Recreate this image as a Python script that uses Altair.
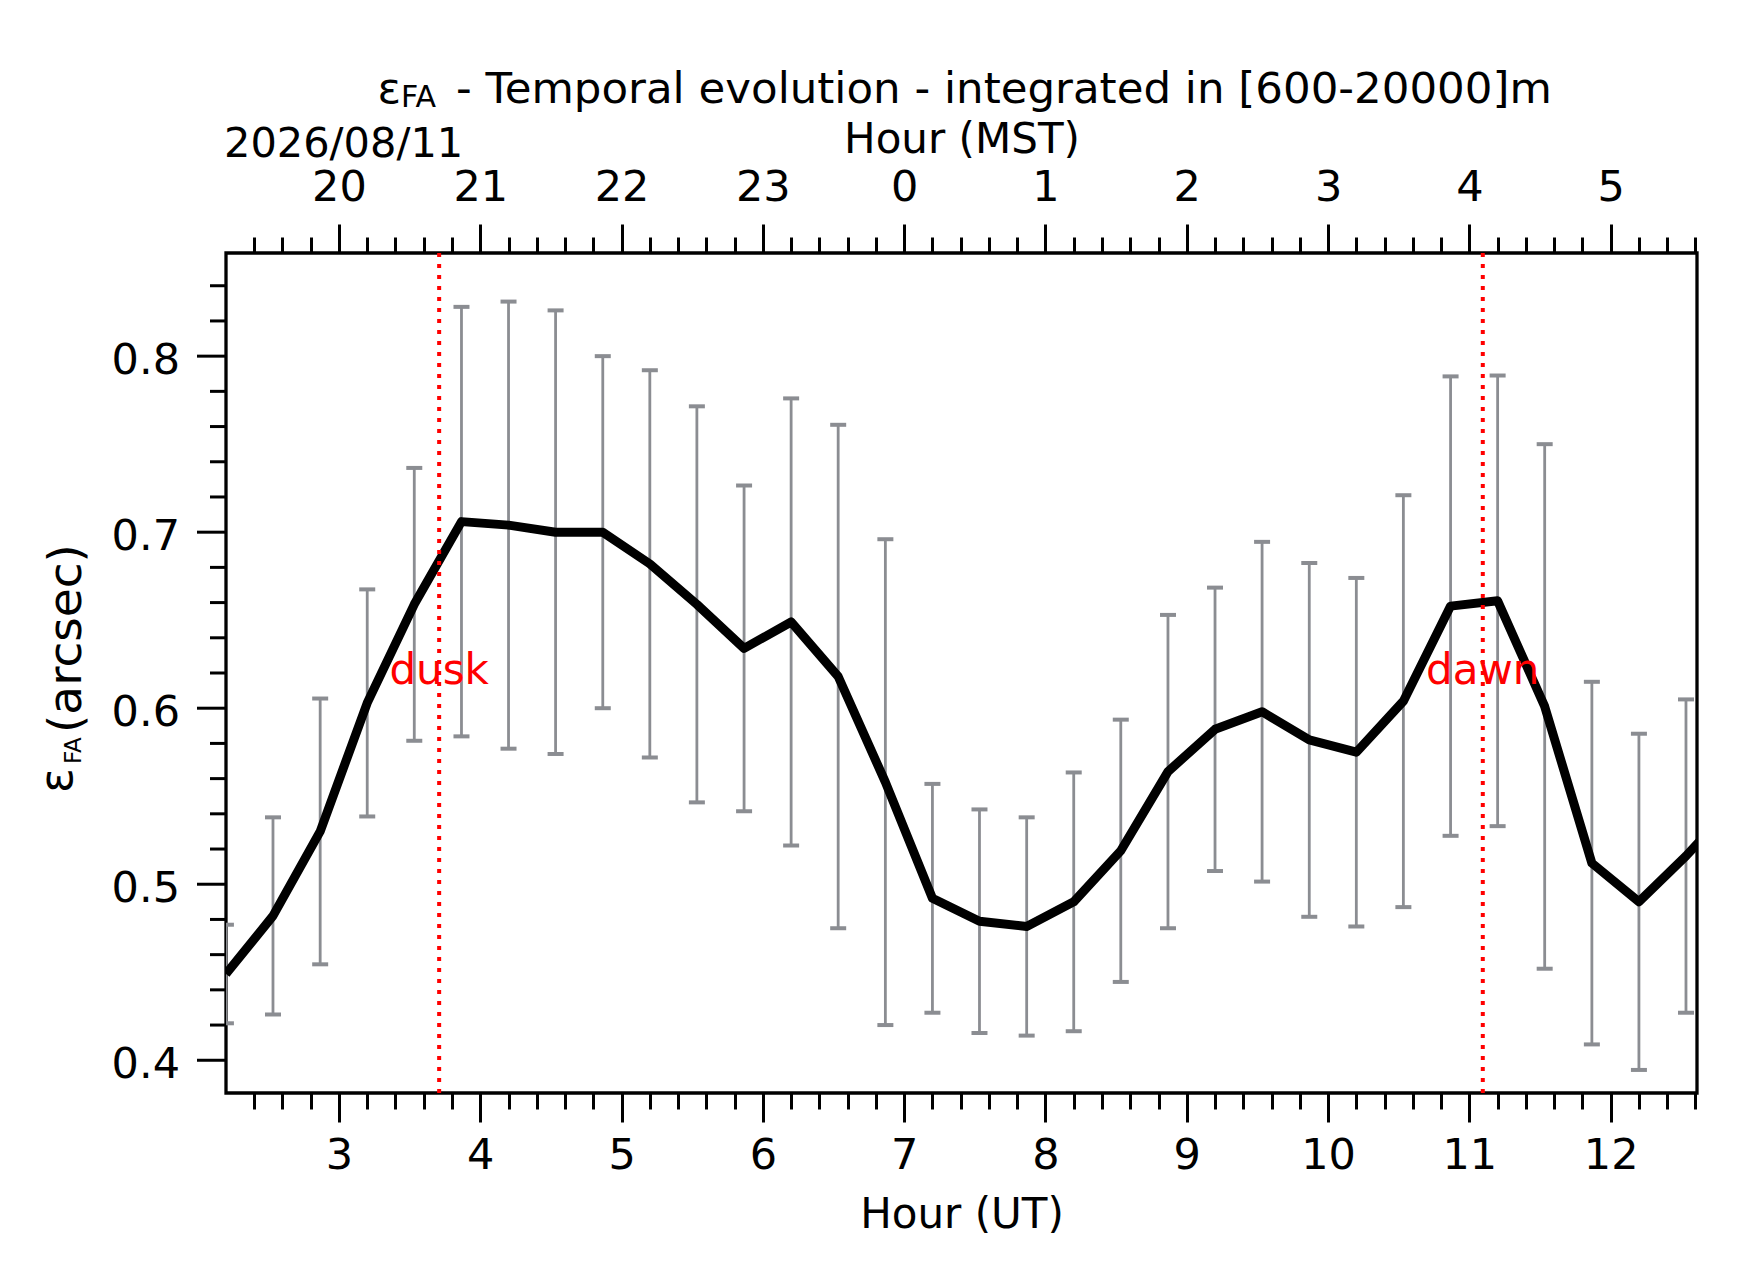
import altair as alt
import pandas as pd

# ---- data ----
hours = [2.2, 2.533, 2.867, 3.2, 3.533, 3.867, 4.2, 4.533, 4.867, 5.2, 5.533,
         5.867, 6.2, 6.533, 6.867, 7.2, 7.533, 7.867, 8.2, 8.533, 8.867, 9.2,
         9.533, 9.867, 10.2, 10.533, 10.867, 11.2, 11.533, 11.867, 12.2, 12.533, 12.867]
eps_mean = [0.449, 0.482, 0.530, 0.603, 0.659, 0.706, 0.704, 0.700, 0.700, 0.682, 0.659,
            0.634, 0.649, 0.618, 0.558, 0.492, 0.479, 0.476, 0.490, 0.519, 0.564, 0.588,
            0.598, 0.582, 0.575, 0.604, 0.658, 0.661, 0.601, 0.512, 0.490, 0.516, 0.545]
eps_err = [0.028, 0.056, 0.0755, 0.0645, 0.0775, 0.122, 0.127, 0.126, 0.100, 0.110, 0.1125,
           0.0925, 0.127, 0.143, 0.138, 0.065, 0.0635, 0.062, 0.0735, 0.0745, 0.089, 0.0805,
           0.0965, 0.1005, 0.099, 0.117, 0.1305, 0.128, 0.149, 0.103, 0.0955, 0.089, 0.090]

event_hours = [3.709, 11.095]
event_names = ["dusk", "dawn"]
event_label_y = [0.614, 0.614]

x_ticks = [round(2.4 + 0.2 * i, 1) for i in range(52)]
y_major = [0.4, 0.5, 0.6, 0.7, 0.8]
y_major_labels = ["0.4", "0.5", "0.6", "0.7", "0.8"]
y_minor = [0.42, 0.44, 0.46, 0.48, 0.52, 0.54, 0.56, 0.58, 0.62, 0.64, 0.66, 0.68,
           0.72, 0.74, 0.76, 0.78, 0.82, 0.84]

x_domain = [2.2005, 12.611]
y_domain = [0.3814, 0.8586]

FONT = "DejaVu Sans"
GRAY = "#8b8d92"

df = pd.DataFrame({
    "hour": hours,
    "eps": eps_mean,
    "lo": [m - e for m, e in zip(eps_mean, eps_err)],
    "hi": [m + e for m, e in zip(eps_mean, eps_err)],
})
ev = pd.DataFrame({"hour": event_hours, "name": event_names, "ly": event_label_y})
ymaj = pd.DataFrame({"v": y_major, "lab": y_major_labels})
ymin = pd.DataFrame({"v": y_minor})

xs = alt.Scale(domain=x_domain, nice=False, zero=False)
ys = alt.Scale(domain=y_domain, nice=False, zero=False)

major_x = "abs(datum.value - round(datum.value)) < 0.001"

x_bottom = alt.Axis(
    orient="bottom", values=x_ticks,
    labelExpr=f"{major_x} ? toString(round(datum.value)) : ''",
    tickSize={"condition": {"test": major_x, "value": 29}, "value": 16},
    labelPadding=12, labelFlush=False, labelOverlap=False,
    title="Hour (UT)", titlePadding=17,
)
x_top = alt.Axis(
    orient="top", values=x_ticks,
    labelExpr=f"{major_x} ? toString((round(datum.value) + 17) % 24) : ''",
    tickSize={"condition": {"test": major_x, "value": 29}, "value": 16},
    labelPadding=15, labelFlush=False, labelOverlap=False,
    title="Hour (MST)", titlePadding=5,
)

base = alt.Chart(df)

bars = base.mark_rule(color=GRAY, strokeWidth=2.8, clip=True).encode(
    x=alt.X("hour:Q", scale=xs, axis=x_top),
    y=alt.Y("lo:Q", scale=ys, axis=None),
    y2="hi:Q",
)
cap_lo = base.mark_tick(color=GRAY, orient="horizontal", size=16, thickness=4,
                        opacity=1, clip=True).encode(
    x=alt.X("hour:Q", scale=xs, axis=None),
    y=alt.Y("lo:Q", scale=ys, axis=None),
)
cap_hi = base.mark_tick(color=GRAY, orient="horizontal", size=16, thickness=4,
                        opacity=1, clip=True).encode(
    x=alt.X("hour:Q", scale=xs, axis=None),
    y=alt.Y("hi:Q", scale=ys, axis=None),
)
line = base.mark_line(color="black", strokeWidth=9, clip=True, strokeJoin="round").encode(
    x=alt.X("hour:Q", scale=xs, axis=x_bottom),
    y=alt.Y("eps:Q", scale=ys, axis=None),
)

# y axis: ticks and labels placed through the y scale
y_major_ticks = alt.Chart(ymaj).mark_rule(color="black", strokeWidth=3).encode(
    x=alt.value(-29), x2=alt.value(0),
    y=alt.Y("v:Q", scale=ys, axis=None),
)
y_minor_ticks = alt.Chart(ymin).mark_rule(color="black", strokeWidth=3).encode(
    x=alt.value(-16), x2=alt.value(0),
    y=alt.Y("v:Q", scale=ys, axis=None),
)
y_labels = alt.Chart(ymaj).mark_text(fontSize=43, font=FONT, color="black", align="right",
                                     baseline="alphabetic", dy=18).encode(
    x=alt.value(-46),
    y=alt.Y("v:Q", scale=ys, axis=None),
    text="lab:N",
)

ev_base = alt.Chart(ev)
ev_rules = ev_base.mark_rule(color="red", strokeWidth=4, strokeDash=[4, 7]).encode(
    x=alt.X("hour:Q", scale=xs, axis=None),
)
ev_text = ev_base.mark_text(color="red", fontSize=42, font=FONT, align="center",
                            baseline="alphabetic").encode(
    x=alt.X("hour:Q", scale=xs, axis=None),
    y=alt.Y("ly:Q", scale=ys, axis=None),
    text="name:N",
)

one = alt.Chart(pd.DataFrame({"k": [0]}))


def label(text, x, y, size, align="left", angle=0):
    kw = dict(text=text, fontSize=size, font=FONT, color="black", align=align,
              baseline="alphabetic")
    if angle:
        kw["angle"] = angle
    return one.mark_text(**kw).encode(x=alt.value(x), y=alt.value(y))


texts = [
    label("ε", 175, -150, 43.5, align="right"),
    label("FA", 175, -146, 30),
    label("- Temporal evolution - integrated in [600-20000]m", 230, -150, 43.5),
    label("2026/08/11", -2, -96, 41.5),
    label("ε", -154, 540, 46, angle=270),
    label("FA", -145, 511, 23, angle=270),
    label("(arcsec)", -145, 480, 47, angle=270),
]

chart = alt.layer(bars, cap_lo, cap_hi, line, y_major_ticks, y_minor_ticks, y_labels,
                  ev_rules, ev_text, *texts).properties(
    width=1471, height=840,
    padding={"left": 218, "top": 245, "right": 30, "bottom": 170},
    autosize=alt.AutoSizeParams(type="none"),
).configure_view(
    stroke="black", strokeWidth=3.3,
).configure_axis(
    grid=False, domain=False, tickColor="black", tickWidth=3,
    labelFont=FONT, labelFontSize=43, labelColor="black",
    titleFont=FONT, titleFontSize=42, titleFontWeight="normal", titleColor="black",
)

chart.save("out.html", embed_options={"renderer": "svg", "actions": False})
